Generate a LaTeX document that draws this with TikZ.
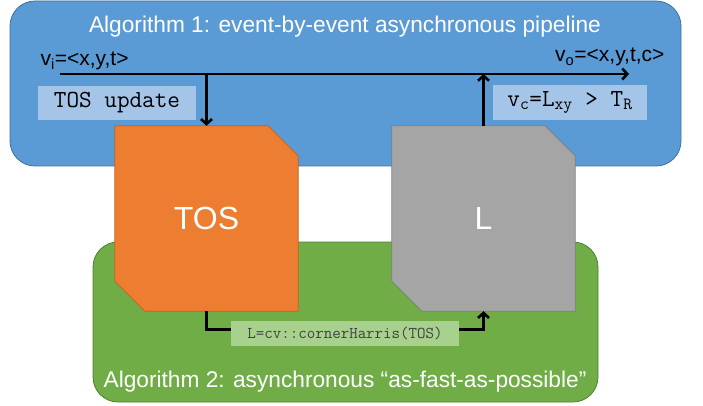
\documentclass[tikz,border=0pt]{standalone}
\usepackage{fontspec}
\setmainfont{Liberation Sans}
\usetikzlibrary{arrows.meta,calc}

\definecolor{algoblue}{HTML}{5B9BD5}
\definecolor{algobluedark}{HTML}{41719C}
\definecolor{algogreen}{HTML}{70AD47}
\definecolor{algogreendark}{HTML}{507E32}
\definecolor{tosorange}{HTML}{ED7D31}
\definecolor{tosorangedark}{HTML}{C0641F}
\definecolor{lgray}{HTML}{A5A5A5}
\definecolor{lgraydark}{HTML}{7F7F7F}
\definecolor{notebluefill}{HTML}{A4C4E8}
\definecolor{notegreenfill}{HTML}{A9D18E}
\definecolor{notegreentext}{HTML}{404040}

% chamfered map block: cut at north east and south west
\newcommand{\mapblock}[3]{%
	\filldraw [line width=0.8pt, fill=#2, draw=#3] (#1.north west) -- ($(#1.north east)+(-30,0)$)
		-- ($(#1.north east)+(0,30)$) -- (#1.south east) -- ($(#1.south west)+(30,0)$)
		-- ($(#1.south west)+(0,-30)$) -- cycle;}

\begin{document}
\begin{tikzpicture}[x=1pt,y=-1pt,
	panel/.style={rounded corners=25pt, line width=0.8pt},
	blockarea/.style={rectangle, minimum width=183pt, minimum height=185pt, inner sep=0pt},
	blocktext/.style={text=white, font=\fontsize{32}{36}\selectfont},
	note/.style={inner sep=0pt, font=\ttfamily\fontsize{24.5}{26}\selectfont},
	title/.style={anchor=base, text=white, font=\fontsize{22.7}{26}\selectfont},
	signal/.style={anchor=base, font=\fontsize{21}{24}\selectfont},
	flow/.style={line width=2.6pt, -{Straight Barb[length=5pt,width=11pt]}}]
	\useasboundingbox (0,0) rectangle (703,406);
	% the two algorithm panels
	\draw [panel, fill=algoblue, draw=algobluedark] (10,1) rectangle (681,166);
	\draw [panel, fill=algogreen, draw=algogreendark] (93,242) rectangle (598,402);
	\node [title] (algoone) at (345,33) {Algorithm 1: event-by-event asynchronous pipeline};
	\node [title] (algotwo) at (345,387) {Algorithm 2: asynchronous “as-fast-as-possible”};
	% event stream
	\coordinate (vin) at (60,74);
	\coordinate (vout) at (629,74);
	\node [signal, anchor=base west] (vilabel) at (37,66) {v\textsubscript{i}=<x,y,t>};
	\node [signal, anchor=base east] (volabel) at (668,62) {v\textsubscript{o}=<x,y,t,c>};
	\draw [flow] (vin) -- (vout);
	% maps
	\node [blockarea] (tos) at (206.5,218.5) {};
	\node [blockarea] (lmap) at (483.5,218.5) {};
	\mapblock{tos}{tosorange}{tosorangedark}
	\mapblock{lmap}{lgray}{lgraydark}
	\node [blocktext] (toslabel) at (tos) {TOS};
	\node [blocktext] (lmaplabel) at (lmap) {L};
	\draw [flow] (tos.north |- vin) -- (tos.north);
	\draw [flow] (lmap.north) -- (lmap.north |- vin);
	\draw [flow] (tos.south) -- ++(0,18.5) -| (lmap.south);
	% code notes
	\node [note, fill=notebluefill, minimum width=158pt, minimum height=34pt] (tosupdate) at (117,103) {TOS update};
	\node [note, fill=notebluefill, minimum width=154pt, minimum height=35pt] (threshold) at (570,102.5)
		{v\textsubscript{c}=L\textsubscript{xy} > T\textsubscript{R}};
	\node [note, fill=notegreenfill, text=notegreentext, minimum width=228pt, minimum height=25pt,
		font=\ttfamily\fontsize{16.5}{18}\selectfont] (harris) at (345,333) {L=cv::cornerHarris(TOS)};
\end{tikzpicture}
\end{document}
